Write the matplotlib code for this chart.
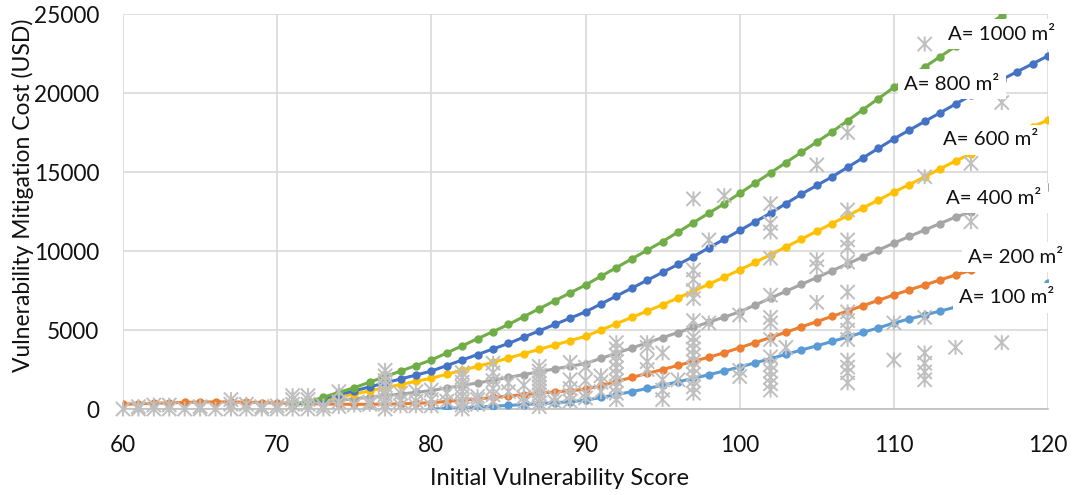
"""
Vulnerability mitigation cost vs initial vulnerability score
"""

import numpy as np
import matplotlib.pyplot as plt
from matplotlib.path import Path

plt.rcParams['font.family'] = ['Lato', 'DejaVu Sans']

# ---- line series (cost for each building area) ----
x_100 = list(range(80, 121))
y_100 = [0, 40, 80, 130, 180, 230, 280, 340, 400, 460, 560,
         730, 910, 1100, 1300, 1500, 1720, 1940, 2170, 2410, 2660,
         2920, 3190, 3460, 3730, 4000, 4280, 4560, 4850, 5140, 5440,
         5700, 5950, 6200, 6450, 6700, 6950, 7200, 7450, 7700, 7950]

x_200 = list(range(60, 121))
y_200 = [300, 330, 360, 390, 420, 440, 450, 450, 430, 410,
         380, 360, 340, 320, 300, 300, 300, 310, 330, 360,
         400, 480, 560, 640, 730, 820, 910, 1000, 1080, 1160,
         1250, 1490, 1740, 2000, 2250, 2500, 2760, 3020, 3280, 3560,
         3880, 4200, 4530, 4860, 5200, 5530, 5870, 6200, 6540, 6880,
         7220, 7540, 7850, 8170, 8480, 8780, 9080, 9380, 9680, 9980, 10280]

x_big = list(range(71, 121))
y_400 = [300, 400, 450, 550, 650, 750, 850, 950, 1050,
         1170, 1330, 1490, 1650, 1820, 2000, 2180, 2360, 2540, 2710,
         2880, 3200, 3530, 3860, 4190, 4520, 4840, 5170, 5500, 5820,
         6150, 6580, 7020, 7450, 7890, 8320, 8760, 9190, 9630, 10060,
         10500, 10920, 11330, 11740, 12150, 12470, 12790, 13100, 13420, 13730, 14050]
y_600 = [300, 400, 550, 750, 950, 1150, 1350, 1550, 1750,
         1950, 2200, 2450, 2700, 2950, 3230, 3500, 3780, 4050, 4330,
         4600, 5000, 5400, 5800, 6200, 6600, 7030, 7460, 7900, 8350,
         8800, 9280, 9770, 10260, 10750, 11250, 11740, 12240, 12730, 13230,
         13730, 14200, 14700, 15200, 15700, 16150, 16600, 17000, 17450, 17870, 18290]
y_800 = [300, 400, 650, 900, 1150, 1400, 1650, 1900, 2150,
         2400, 2750, 3100, 3450, 3800, 4150, 4550, 4950, 5350, 5750,
         6150, 6650, 7150, 7650, 8150, 8650, 9150, 9650, 10200, 10750,
         11300, 11850, 12400, 13000, 13600, 14150, 14700, 15300, 15900, 16500,
         17100, 17650, 18200, 18750, 19300, 19850, 20350, 20850, 21350, 21850, 22350]
y_1000 = [300, 450, 750, 1050, 1350, 1700, 2050, 2400, 2750,
          3100, 3550, 4000, 4450, 4900, 5350, 5850, 6350, 6850, 7350,
          7850, 8400, 8950, 9500, 10050, 10600, 11200, 11800, 12400, 13000,
          13650, 14300, 14950, 15600, 16250, 16900, 17550, 18250, 18950, 19650,
          20350, 21000, 21650, 22300, 22950, 23600, 24250, 24900, 25550, 26200, 26850]

# ---- observed cases (scatter) ----
obs = {
    60: [0], 61: [0, 150], 62: [0, 250], 63: [0, 250], 64: [0],
    65: [0, 150], 66: [0], 67: [0, 300, 600], 68: [0, 300], 69: [0, 150],
    70: [0, 200], 71: [0, 300, 600, 850], 72: [0, 300, 600, 850], 73: [0, 200],
    74: [150, 450, 1100], 75: [250], 76: [300, 450],
    77: [0, 300, 600, 900, 1200, 1500, 1800, 2100, 2450],
    78: [200, 500, 1000], 79: [200, 500, 1100], 80: [200, 600, 1200],
    81: [500, 1000], 82: [0, 250, 500, 800, 1100, 1400, 1700, 2000, 2300],
    83: [300, 600, 800], 84: [500, 900, 1300, 1800, 2300, 2900],
    85: [1100, 1650], 86: [400, 750, 1500],
    87: [150, 400, 650, 900, 1150, 1400, 1650, 1900, 2150, 2400, 2700],
    88: [450, 750], 89: [500, 900, 1300, 1850, 2950], 90: [700, 1000, 1800, 2650],
    91: [1100, 1700, 2100],
    92: [600, 1000, 1400, 1800, 2200, 2600, 3000, 3400, 3800, 4200],
    94: [2500, 3000, 3900, 4200], 95: [600, 1200, 1850, 3550], 96: [1850],
    97: [1000, 1400, 1800, 2200, 2600, 3000, 3400, 3800, 4200, 4550,
         5600, 7000, 7500, 8200, 8800, 13300],
    98: [5450, 10700], 99: [13500], 100: [2050, 2450, 5950],
    102: [1200, 1600, 2000, 2400, 2800, 3300, 4400, 5450, 5800, 7200,
          9550, 11200, 11750, 13000],
    103: [3900], 105: [6750, 9000, 9450, 15450],
    107: [1650, 2300, 2650, 3100, 4400, 5000, 5600, 6150, 7400, 9300,
          10250, 10700, 12600, 17500],
    110: [3100, 5450], 112: [1850, 2350, 2900, 3550, 5800, 14700, 23100],
    114: [3900], 115: [11850, 15550], 117: [4200, 19400],
}
obs_x = [k for k, v in obs.items() for _ in v]
obs_y = [c for v in obs.values() for c in v]

labels = ['A= 100 m²', 'A= 200 m²', 'A= 400 m²', 'A= 600 m²', 'A= 800 m²', 'A= 1000 m²']
label_pos = [(117.3, 7030), (117.9, 9620), (116.5, 13350),
             (116.3, 17030), (113.76, 20570), (117.0, 23730)]
colors = ['#5B9BD5', '#ED7D31', '#A5A5A5', '#FFC000', '#4472C4', '#70AD47']

# excel style star: an X with a vertical bar
star = Path([(-1, -1), (1, 1), (-1, 1), (1, -1), (0, -1.05), (0, 1.05)],
            [Path.MOVETO, Path.LINETO, Path.MOVETO, Path.LINETO, Path.MOVETO, Path.LINETO])

fig = plt.figure(figsize=(10.78, 4.95), dpi=100)
ax = fig.add_axes([0.1141, 0.1737, 0.8581, 0.798])

series = [(x_100, y_100), (x_200, y_200), (x_big, y_400),
          (x_big, y_600), (x_big, y_800), (x_big, y_1000)]
for (xs, ys), col in zip(series, colors):
    ax.plot(xs, ys, color=col, lw=2.2, marker='o', ms=5, zorder=3)

ax.scatter(obs_x, obs_y, marker=star, s=115, facecolor='none',
           edgecolor='#BFBFBF', linewidths=1.4, zorder=4, clip_on=False)

for txt, (lx, ly) in zip(labels, label_pos):
    ax.text(lx, ly, txt, ha='center', va='center', fontsize=14.7, color='#111111',
            bbox=dict(boxstyle='square,pad=0.3', fc='white', ec='none'),
            zorder=6, clip_on=False)

ax.set_xlim(60, 120)
ax.set_ylim(0, 25000)
ax.set_xticks(np.arange(60, 121, 10))
ax.set_yticks(np.arange(0, 25001, 5000))
ax.grid(color='#D9D9D9', lw=1.2)
ax.set_axisbelow(True)
for s in ['top', 'right', 'left']:
    ax.spines[s].set_visible(False)
ax.spines['bottom'].set_color('#BFBFBF')
ax.spines['bottom'].set_linewidth(1.2)
ax.tick_params(length=0, labelsize=16.3, colors='#111111')
ax.tick_params(axis='x', pad=19)
ax.tick_params(axis='y', pad=17)

ax.set_xlabel('Initial Vulnerability Score', fontsize=17, color='#111111', va='center')
ax.set_ylabel('Vulnerability Mitigation Cost (USD)', fontsize=16.5, color='#111111', va='center')
ax.xaxis.set_label_coords(0.4724, -0.1747)
ax.yaxis.set_label_coords(-0.108, 0.542)

fig.savefig('out.png', dpi=100)
